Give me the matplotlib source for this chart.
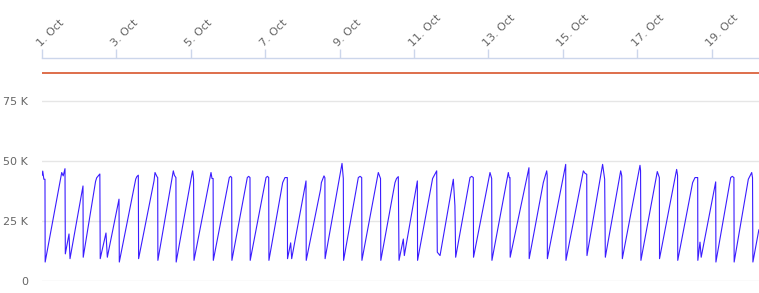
import matplotlib
matplotlib.use("Agg")
import matplotlib.pyplot as plt
import pandas as pd

# time in days since 1 Oct 00:00, value in thousands
t_days = [
    0.00, 0.02, 0.05, 0.08, 0.085,
    0.53, 0.57, 0.618, 0.627,
    0.726, 0.753,
    1.102, 1.108,
    1.44, 1.47, 1.555, 1.565,
    1.72, 1.756,
    2.07, 2.078,
    2.52, 2.55, 2.589, 2.597,
    3.011, 3.038, 3.09, 3.11, 3.115,
    3.53, 3.56, 3.60, 3.607,
    4.03, 4.05, 4.075, 4.086,
    4.543, 4.57, 4.60, 4.605,
    5.035, 5.07, 5.099, 5.105,
    5.519, 5.555, 5.591, 5.597,
    6.022, 6.06, 6.094, 6.10,
    6.47, 6.532, 6.594, 6.60,
    6.685, 6.712,
    7.097, 7.103,
    7.49, 7.51, 7.58, 7.605, 7.61,
    8.065, 8.10, 8.107,
    8.503, 8.55, 8.594, 8.60,
    9.04, 9.10, 9.108,
    9.489, 9.53, 9.578, 9.597,
    9.713, 9.74,
    10.09, 10.096,
    10.50, 10.61, 10.626, 10.70,
    11.057, 11.10, 11.12,
    11.505, 11.55, 11.594, 11.60,
    12.043, 12.088, 12.095,
    12.535, 12.56, 12.58, 12.585,
    13.09, 13.096,
    13.476, 13.567, 13.58, 13.585,
    14.078, 14.085,
    14.552, 14.60, 14.643, 14.65,
    15.07, 15.125, 15.143,
    15.556, 15.585, 15.60,
    16.075, 16.09, 16.10,
    16.54, 16.595, 16.60,
    17.06, 17.085, 17.09,
    17.49, 17.554, 17.626, 17.63,
    17.688, 17.72,
    18.11, 18.116,
    18.513, 18.555, 18.60, 18.606,
    18.987, 19.078, 19.10, 19.11,
    19.27,
]
load_k = [
    44.0, 45.8, 42.4, 42.4, 7.9,
    45.2, 43.8, 46.8, 11.3,
    19.6, 9.3,
    39.6, 9.9,
    41.5, 43.0, 44.6, 9.3,
    20.0, 9.9,
    34.1, 7.9,
    42.5, 43.5, 44.1, 9.3,
    41.7, 45.2, 43.5, 43.1, 8.6,
    45.9, 44.0, 43.1, 7.9,
    44.5, 45.9, 42.4, 8.6,
    45.2, 42.7, 42.7, 8.6,
    43.1, 43.6, 43.1, 8.6,
    43.1, 43.6, 43.1, 8.6,
    43.1, 43.6, 43.1, 8.6,
    41.0, 43.1, 43.1, 9.3,
    15.9, 9.3,
    41.7, 8.6,
    38.3, 41.0, 43.8, 43.0, 9.3,
    49.0, 42.7, 8.6,
    43.1, 43.6, 43.1, 8.6,
    45.2, 42.7, 8.6,
    41.0, 42.7, 43.5, 8.6,
    17.5, 10.6,
    41.7, 8.6,
    42.7, 45.9, 12.0, 10.6,
    42.4, 31.3, 9.9,
    43.1, 43.6, 43.1, 9.9,
    45.2, 42.7, 8.6,
    45.2, 43.1, 43.1, 9.9,
    47.2, 9.3,
    41.0, 45.9, 44.0, 9.3,
    48.6, 8.6,
    45.9, 44.8, 44.5, 10.6,
    48.6, 42.4, 9.9,
    45.9, 43.8, 9.3,
    48.2, 46.0, 8.6,
    45.6, 43.1, 9.3,
    46.5, 44.0, 8.6,
    41.0, 43.1, 43.1, 8.6,
    16.2, 9.9,
    41.3, 7.9,
    43.1, 43.6, 43.1, 7.9,
    42.4, 45.2, 43.0, 7.9,
    21.3,
]
y_ticks = [0, 25, 50, 75]
y_tick_labels = ["0", "25 K", "50 K", "75 K"]
x_tick_days = [1, 3, 5, 7, 9, 11, 13, 15, 17, 19]
x_tick_labels = ["1. Oct", "3. Oct", "5. Oct", "7. Oct", "9. Oct",
                 "11. Oct", "13. Oct", "15. Oct", "17. Oct", "19. Oct"]
threshold_k = 86.5

start = pd.Timestamp("2023-10-01")
times = start + pd.to_timedelta(t_days, unit="D")
tick_times = [start + pd.Timedelta(days=d - 1) for d in x_tick_days]

plt.rcParams["font.family"] = ["DejaVu Sans"]
W, H = 759, 293
fig = plt.figure(figsize=(W / 100, H / 100), dpi=100)
left, right, top, bottom = 42, 759, 58, 281
ax = fig.add_axes([left / W, 1 - bottom / H, (right - left) / W, (bottom - top) / H])

ax.plot(times, load_k, color="#3a1cff", lw=0.8, solid_joinstyle="round")
ax.axhline(threshold_k, color="#d4471a", lw=1.1)

ax.set_ylim(0, (bottom - top) / 60 * 25)
ax.set_xlim(start, start + pd.Timedelta(days=19.274))

ax.set_yticks(y_ticks)
ax.set_yticklabels(y_tick_labels)
ax.tick_params(axis="y", length=0, pad=10, labelsize=8, labelcolor="#666666")
ax.grid(axis="y", color="#e6e6e6", lw=1)
ax.set_axisbelow(True)

ax.xaxis.tick_top()
ax.set_xticks(tick_times)
ax.set_xticklabels(x_tick_labels)
ax.tick_params(axis="x", which="major", length=6.5, width=1, color="#ccd6eb",
               pad=0.5, labelsize=8, labelcolor="#666666")
plt.setp(ax.get_xticklabels(), rotation=45, ha="left", va="bottom",
         rotation_mode="anchor")

for s in ["left", "right", "bottom"]:
    ax.spines[s].set_visible(False)
ax.spines["top"].set_color("#ccd6eb")
ax.spines["top"].set_linewidth(1)

fig.savefig("out.png", dpi=100)
